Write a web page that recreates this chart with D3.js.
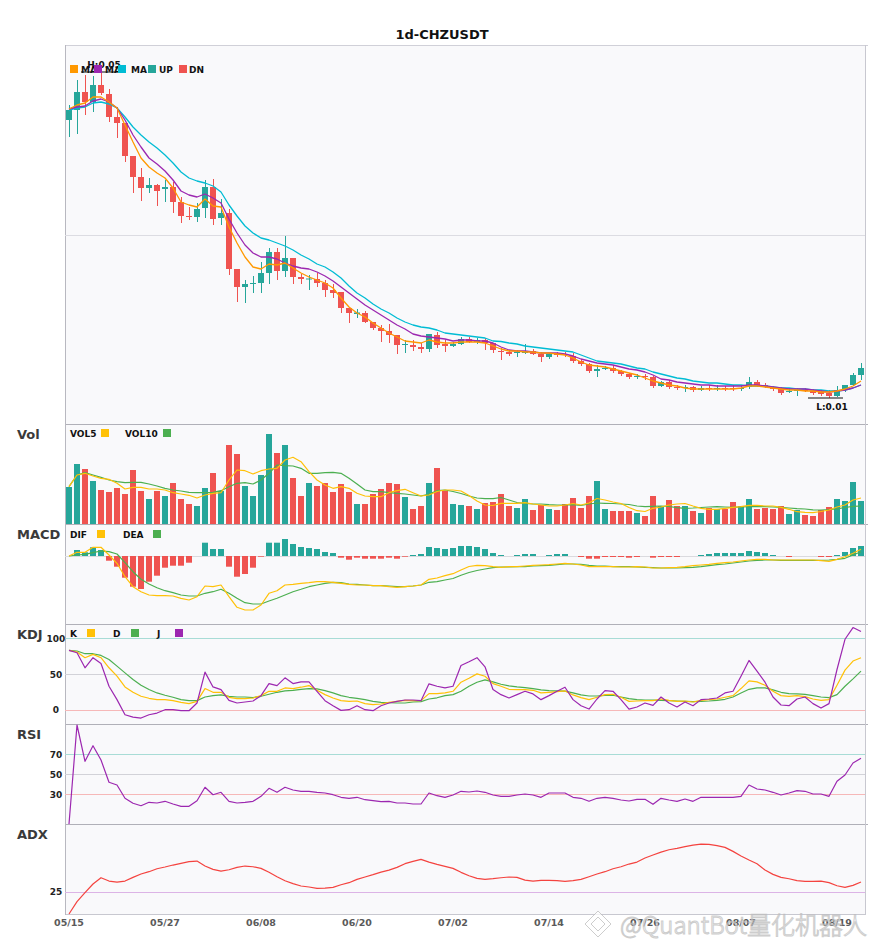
<!DOCTYPE html>
<html>
<head>
<meta charset="utf-8">
<script src="https://cdn.jsdelivr.net/npm/d3@7"></script>
<style>
  body { margin: 0; background: #fff; }
  text { font-family: "DejaVu Sans", sans-serif; }
</style>
</head>
<body>
<svg id="chart" width="885" height="950"></svg>
<script>
// daily candles, 05/15 .. 08/22
var days = d3.timeDay.range(new Date(2022, 4, 15), new Date(2022, 7, 23)).map(d3.timeFormat("%m/%d"));
var xTicks = ["05/15", "05/27", "06/08", "06/20", "07/02", "07/14", "07/26", "08/07", "08/19"];

var openP = [0.0410,0.0420,0.0438,0.0428,0.0445,0.0436,0.0413,0.0407,0.0374,0.0353,
  0.0342,0.0345,0.0341,0.0343,0.0328,0.0314,0.0313,0.0322,0.0343,0.0312,
  0.0317,0.0261,0.0243,0.0246,0.0247,0.0257,0.0278,0.0259,0.0272,0.0253,
  0.02505,0.0251,0.0247,0.0240,0.0238,0.0222,0.0216,0.0217,0.0208,0.0202,
  0.0199,0.0195,0.0185,0.0185,0.0183,0.0181,0.0195,0.0186,0.0184,0.0186,
  0.0191,0.0188,0.0190,0.0187,0.0179,0.0178,0.0177,0.0177,0.0179,0.0176,
  0.0173,0.0177,0.0176,0.0174,0.0169,0.0166,0.0159,0.0161,0.0162,0.0159,
  0.0156,0.0153,0.0154,0.0153,0.0144,0.0148,0.0143,0.0142,0.0143,0.0140,
  0.0142,0.0141,0.0142,0.0142,0.0141,0.0143,0.0148,0.0145,0.0143,0.0142,
  0.0138,0.0139,0.0140,0.0139,0.0138,0.0137,0.0134,0.0140,0.0145,0.0155];
var highP = [0.0425,0.0450,0.0455,0.0454,0.0458,0.0441,0.0423,0.0407,0.0374,0.0362,
  0.0352,0.0346,0.0350,0.0348,0.0333,0.0323,0.0327,0.0350,0.0351,0.0331,
  0.0321,0.0261,0.0250,0.0254,0.0268,0.0282,0.0282,0.0294,0.0272,0.0256,
  0.0255,0.0257,0.0250,0.0246,0.0238,0.0222,0.0221,0.0219,0.0208,0.0205,
  0.0206,0.0195,0.0190,0.0190,0.0187,0.0196,0.0198,0.0190,0.0188,0.0193,
  0.0193,0.0192,0.0192,0.0187,0.0182,0.0180,0.0180,0.0186,0.0181,0.0178,
  0.0177,0.0178,0.0178,0.0177,0.0171,0.0167,0.0165,0.0164,0.0165,0.0160,
  0.0157,0.0156,0.0156,0.0154,0.0149,0.0150,0.0145,0.0145,0.0144,0.0144,
  0.0145,0.0145,0.0144,0.0145,0.0145,0.0153,0.0150,0.0147,0.0144,0.0143,
  0.0142,0.0142,0.0142,0.0141,0.0140,0.0140,0.0144,0.0145,0.0157,0.0167];
var lowP = [0.0393,0.0396,0.0415,0.0418,0.0435,0.0408,0.0392,0.0368,0.0337,0.0329,
  0.0337,0.0324,0.0328,0.0317,0.0307,0.0310,0.0308,0.0312,0.0305,0.0305,
  0.0255,0.0228,0.0227,0.0237,0.0237,0.0246,0.0250,0.0253,0.0246,0.0246,
  0.0240,0.0243,0.0233,0.0232,0.0217,0.0207,0.0212,0.0207,0.0200,0.0188,
  0.0187,0.0176,0.0177,0.0179,0.0177,0.0178,0.0182,0.0178,0.0183,0.0185,
  0.0187,0.0186,0.0180,0.0177,0.0170,0.0174,0.0173,0.0176,0.0175,0.0168,
  0.0171,0.0173,0.0173,0.0167,0.0164,0.0157,0.0153,0.0160,0.0157,0.0154,
  0.0151,0.0151,0.0150,0.0142,0.0143,0.0141,0.0140,0.0138,0.0138,0.0139,
  0.0139,0.0139,0.0139,0.0139,0.0139,0.0141,0.0143,0.0142,0.0139,0.0135,
  0.0137,0.0134,0.0138,0.0135,0.0134,0.0132,0.0133,0.0138,0.0144,0.0150];
var closeP = [0.0420,0.0438,0.0428,0.0445,0.0437,0.0413,0.0407,0.0374,0.0353,0.0342,
  0.0345,0.0339,0.0343,0.0328,0.0314,0.0313,0.0321,0.0343,0.0311,0.0317,
  0.0261,0.0243,0.0246,0.0247,0.0257,0.0278,0.0259,0.0272,0.0253,0.0251,
  0.02515,0.0247,0.0240,0.0237,0.0222,0.0217,0.02175,0.0208,0.0202,0.0199,
  0.0195,0.0185,0.0186,0.0183,0.0181,0.0196,0.0185,0.0184,0.0186,0.0191,
  0.0188,0.0190,0.0187,0.0180,0.0178,0.0176,0.0178,0.01785,0.0176,0.0173,
  0.0176,0.0175,0.0175,0.0169,0.0166,0.0159,0.0161,0.0162,0.0159,0.0156,
  0.0153,0.0154,0.0153,0.0144,0.0148,0.0143,0.0142,0.0143,0.0140,0.0142,
  0.0141,0.0142,0.0141,0.0141,0.0142,0.0148,0.0145,0.0144,0.0141,0.0137,
  0.0139,0.0140,0.0139,0.0137,0.0136,0.0134,0.0140,0.0145,0.0155,0.0162];

var ma5 = [0.0421,0.0425,0.0427,0.0433,0.0433,0.0428,0.0422,0.0405,0.0388,0.0372,
  0.0363,0.0357,0.0352,0.0342,0.0328,0.0325,0.0323,0.0331,0.0324,0.0323,
  0.0303,0.0287,0.0273,0.0263,0.0261,0.0266,0.0265,0.0267,0.0262,0.0257,
  0.0253,0.0250,0.0247,0.0242,0.0232,0.0223,0.0217,0.0213,0.0207,0.0202,
  0.0197,0.0193,0.0189,0.0188,0.0187,0.0190,0.0188,0.0187,0.0187,0.0188,
  0.0188,0.0188,0.0187,0.0184,0.0181,0.0179,0.0179,0.0178,0.0178,0.0177,
  0.0177,0.0176,0.0175,0.0172,0.0168,0.0165,0.0164,0.0163,0.0161,0.0159,
  0.0157,0.0155,0.0152,0.0149,0.0147,0.0145,0.0144,0.0142,0.0141,0.0141,
  0.0141,0.0141,0.0141,0.0141,0.0142,0.0144,0.0144,0.0143,0.0142,0.0141,
  0.0140,0.0140,0.0139,0.0139,0.0138,0.0138,0.0139,0.0141,0.0144,0.0149];
var ma10 = [0.0421,0.0423,0.0424,0.0429,0.0431,0.0428,0.0422,0.0410,0.0395,0.0383,
  0.0372,0.0366,0.0359,0.0350,0.0339,0.0335,0.0333,0.0336,0.0332,0.0327,
  0.0311,0.0297,0.0285,0.0277,0.0273,0.0273,0.0271,0.0267,0.0264,0.0262,
  0.0261,0.0258,0.0254,0.0249,0.0243,0.0237,0.0231,0.0225,0.0220,0.0215,
  0.0210,0.0205,0.0201,0.0196,0.0194,0.0193,0.0192,0.0191,0.0189,0.0190,
  0.0190,0.0189,0.0189,0.0187,0.0183,0.0180,0.0179,0.0179,0.0178,0.0177,
  0.0177,0.0177,0.0176,0.0174,0.0171,0.0169,0.0167,0.0166,0.0165,0.0163,
  0.0161,0.0160,0.0158,0.0155,0.0151,0.0150,0.0148,0.0147,0.0146,0.0145,
  0.0145,0.0144,0.0144,0.0144,0.0144,0.0145,0.0145,0.0144,0.0143,0.0142,
  0.0141,0.0141,0.0141,0.0140,0.0139,0.0138,0.0139,0.0140,0.0142,0.0145];
var ma20 = [0.0420,0.0422,0.0423,0.0427,0.0428,0.0426,0.0422,0.0413,0.0403,0.0395,
  0.0388,0.0382,0.0375,0.0367,0.0358,0.0352,0.0349,0.0347,0.0344,0.0338,
  0.0325,0.0314,0.0304,0.0297,0.0292,0.0290,0.0287,0.0284,0.0280,0.0275,
  0.0271,0.0266,0.0263,0.0258,0.0252,0.0244,0.0237,0.0232,0.0226,0.0221,
  0.0217,0.0212,0.0208,0.0205,0.0203,0.0202,0.0200,0.0197,0.0196,0.0195,
  0.0194,0.0193,0.0192,0.0189,0.01885,0.0187,0.0186,0.0184,0.0183,0.0182,
  0.0181,0.0180,0.0179,0.0178,0.0175,0.0172,0.0169,0.0168,0.0167,0.0166,
  0.0164,0.0162,0.0161,0.0158,0.0156,0.0154,0.0152,0.0151,0.0149,0.0148,
  0.0147,0.0147,0.0146,0.0145,0.0145,0.0144,0.0144,0.0144,0.0143,0.0142,
  0.0142,0.0141,0.0141,0.0140,0.0140,0.0139,0.0139,0.0140,0.0142,0.0145];

// volume in millions
var volume = [37,60,55,43,34,32,36,30,54,33, 25,33,28,41,25,20,18,36,51,33,
  79,70,38,28,49,90,71,79,46,28, 41,38,41,32,40,32,20,20,30,35,
  41,40,27,15,18,41,56,33,20,19, 18,15,21,22,30,18,16,25,14,19,
  15,14,20,26,16,28,43,15,13,13, 13,11,8,28,18,24,18,18,13,11,
  16,15,15,22,18,25,15,16,15,18, 10,14,9,8,14,17,25,23,42,23];
var vol5 = [37.3,49,50.7,48,45.7,44.7,40.7,35,36.7,36.7, 35,35,34,31.3,30,28.7,26,29,30.7,31.3,
  44,54,53.3,50,53.3,55,55.7,64,66.7,62.3, 52.3,44,39,35.7,37.3,35.7,30.7,28,27.3,27.3,
  31.3,33.3,34.7,31.3,28,29,32.5,34,34,33, 28.5,23,19,18.5,20.7,20.7,20.7,21.3,20,19,
  18,18,19,20.5,19,21,25.5,24,22,20.5, 16.5,13.3,12.5,15.7,17,19,20,20.5,18,15.7,
  14.7,14.7,15.7,16.7,17.3,18.7,18.7,18,18,16.7, 14.7,12.3,11.7,11.3,12.5,14,17,19,24,26];
var vol10 = [37.3,49,51.3,49,46.7,44,42.3,41.3,41.7,41.7, 40,38,35.7,34,33,31.7,31.3,31.3,31.7,33.3,
  37.3,40.7,41.3,40,44,50.7,59,58.3,58,55.7, 50.7,50.7,51.3,51.7,50.7,45.7,40,34,32.3,32.3,
  31.3,30.7,30,29,28,30,33.3,34,32.5,30.5, 28,26,25.3,25.3,26.5,24,21.5,20.5,20,20,
  19.3,19,19,19.3,18.5,20,21,20.7,20.5,20, 19.5,18,17.3,17.7,18,17.5,16.3,15.7,16,16.5,
  17,17.3,17,16.7,17,17.3,17.3,17.3,17,16.7, 16,15.4,15,14.2,14,14.5,15.2,16.5,17.7,18];

// MACD values in units of 1e-5
var dif = [0,3.7,3.7,8.7,8.7,1,-7.3,-20.7,-30.7,-35.7, -39,-39.7,-39.7,-40,-42.3,-44,-40.7,-30,-30.7,-29,
  -40.7,-51.3,-54,-54,-49,-37.3,-34.7,-29,-28.3,-27.3, -26.7,-25.7,-25.7,-26.3,-27.3,-28.3,-29,-29,-29.7,-29.7,
  -30.7,-31.3,-30.7,-30,-29,-23.3,-22,-19.7,-17.7,-14, -10.5,-9.3,-9.7,-10.7,-11.3,-10.7,-10.7,-10,-9.3,-9,
  -8.7,-8,-7.3,-8,-9,-10.7,-10.7,-10.7,-10.7,-11, -11,-10.7,-11,-12,-12,-11.7,-11.3,-10.7,-9.7,-9,
  -8.3,-7.3,-6.7,-6,-5,-4,-3.3,-3.3,-4,-4, -4,-4,-4,-4,-4.7,-5.3,-3.3,-0.7,2.7,6.7];
var dea = [0,1,1.7,3.3,5,4.3,2,-6.7,-15.7,-23.3, -28,-31.7,-34.7,-36.7,-39,-40,-40,-37.3,-35.7,-33.3,
  -37.3,-42.3,-46.7,-48,-48,-45,-42.3,-39,-35.7,-33.3, -30.7,-29,-27.3,-26.3,-26.7,-28,-28.3,-29,-29.7,-29.7,
  -30,-30.7,-30.7,-30,-29,-26.3,-25.7,-24,-22.5,-19.2, -16.5,-14.5,-13,-11.7,-11,-11,-10.7,-10.7,-10,-9.7,
  -9.3,-8.7,-8,-8,-8.3,-9.3,-10,-10,-10.7,-10.7, -10.7,-11,-11.3,-11.7,-12,-12,-12,-11.7,-11.3,-10.7,
  -9.7,-8.7,-8,-7,-6,-5,-4.3,-4,-4,-4.3, -4.3,-4.3,-4.3,-4.3,-4.3,-4,-3.3,-2.3,1,4.3];
var macdHist = [0,6,3.7,8.7,6,-4.7,-10.7,-21.7,-30.7,-33, -25.7,-19.7,-11.7,-9.7,-9.7,-6.7,0,13.3,7,7,
  -10.7,-20.7,-18,-11.7,-0.7,13.3,13.3,17,12,9, 8,7,4,3,-1.7,-3.7,-1.7,-2.7,-2.7,-2.7,
  -1.7,-2.7,-0.7,1,2,9,8,7,8,10, 10,9,7,3,1,0,1,2,2,0,
  1,2,2,0,-1,-2.7,-2.7,-1,-1,-1, -1.7,-1,0,-1.7,-1,-1,-1,0,0,1,
  2,3,3,3,3,5,4,3,1,0, -1,0,0,0,-1,-1,1,4,8,10];

var kLine = [83,80.8,72.8,77.5,72.8,58.7,47,31.9,24.4,18.8, 16,14.1,14.1,12.7,10.3,8.5,11.7,29.6,24.4,24.4,
  17.4,15.5,15.5,16.4,19.7,25.8,25.8,30.5,29.6,31.5, 33.8,27.2,21.1,16.4,12.7,11.7,12.2,8.5,7,8,
  10.3,11.7,13.1,12.7,12.7,22.5,22.5,23.5,25.8,38.5, 44.1,50.2,46.9,36.6,32.9,28.6,28.2,28.2,27.2,23.5,
  24.4,25.4,26.3,20.7,16.9,14.1,17.4,21.1,21.6,17.4, 11.7,12.2,12.7,12.7,15,13.1,11.7,12.2,10.8,13.1,
  14.1,15,17.4,19.7,29.6,40.4,39,34.3,25.8,19.7, 18.8,19.7,18.3,15,13.1,14.1,34.3,55.4,68.1,72.8];
var dLine = [83,82.2,78.4,78.4,76,70.4,61,51.6,42.3,34.3, 28.2,23.5,20.2,17.4,14.1,12.7,12.7,17.8,19.7,20.7,
  18.8,17.8,17.8,16.9,18.8,21.6,24.4,26.3,27.2,28.6, 29.6,29.1,26.8,23.5,19.7,17.4,16,14.1,11.7,10.3,
  9.9,9.4,9.4,10.8,11.3,15,16.7,19.7,21.1,25.8, 32.9,38.5,41.8,39,35.7,33.3,31.9,31,29.6,27.7,
  26.8,26.3,26,23.5,20.7,19.2,19.2,20.2,20.2,17.8, 15.5,14.1,13.6,13.6,13.1,12.7,12.2,11.7,11.3,11.7,
  12.2,13.1,14.6,17.8,23.5,28.6,30.5,30.5,27.7,24.4, 22.5,22.1,21.6,19.7,17.8,16.9,21.1,32.9,43.2,54];
var jLine = [83,79.8,58.7,72.8,64.8,32.9,14.1,-7,-10.3,-11.7, -7,-4.7,0,0,-1.4,-1.4,9.4,52.6,31.9,28.2,
  13.1,9.4,10.8,12.2,19.7,36.6,33.8,44.6,36.6,39, 39,25.8,12.7,5.6,-0.9,0,5.6,0,-1.4,5.6,
  9.4,11.7,13.6,13.6,12.7,36.2,32.9,30.5,32.9,62, 67.1,72.8,60.1,28.2,21.1,16.4,21.1,25.8,22.1,14.1,
  19.7,25.8,31.5,14.1,5.6,0.9,15,26.8,25.8,14.1, 0.9,3.8,9.4,6.1,17.8,9.4,3.8,10.8,5.6,14.1,
  15,16.4,23.5,25.8,46.9,69,54,38.5,17.8,6.6, 5.6,15,17.8,8.5,2.3,8.5,56.3,98.6,115,109.4];
var rsi = [0,99,62.7,78.3,64,41.7,39,25.7,20.7,18.3, 21.7,21,22.7,20,17.7,17.7,23.3,36.7,29.3,31.7,
  22.7,21,21.7,22.7,27.7,35.7,31.7,36.7,34,32.7, 32.7,31.7,31,29.3,26.7,25.7,26.7,24.3,23.3,22.3,
  22.7,21,21,20,20,31,28.3,26.7,29,32.7, 32,33,31.7,29,27.7,27.7,29,30,29,26.7,
  31,31,31,26.7,25.7,22.7,25.7,26.7,25.7,24, 23,24.7,24.7,19.7,25.7,24,22.7,25,22.7,26.7,
  26.7,26.7,26.7,26.7,27.7,39,35,34,31.7,29, 31,33.3,32.7,30,30,27.7,42.7,49,61,65.7];
var adx = [0,13.7,23.7,33.3,40.3,36.6,35.5,36.6,40.7,44.4, 47,50.3,52.2,54.4,56.3,58.1,58.8,53.3,49.6,47.7,
  49.2,51.8,53.3,52.5,50.7,46.3,41.4,37,33.7,31.1, 30,28.5,28.8,29.6,32.5,34.8,38.5,41.1,43.7,46.6,
  48.8,51.8,55.9,58.5,60.7,57.7,55.1,52.9,50.7,46.3, 42.5,39.6,38.5,39.2,40.3,41.1,40.7,37.7,36.6,37.4,
  37.4,37,36.3,37,38.5,41.4,44.4,47,50.3,52.5, 55.5,57.7,62.2,65.5,68.8,71.4,72.9,74.8,76.6,77.7,
  77.4,75.9,74,69.6,64.4,60,55.9,48.8,44,40.7, 39.2,37,36.3,36.3,36.6,34.8,31.4,29.6,31.8,35.5];

var kdjLevels = [100, 50, 0];
var rsiLevels = [70, 50, 30];
var adxLevels = [25];

var UP = "#26a69a", DN = "#ef5350";
var C_MA5 = "#ff9800", C_MA10 = "#9c27b0", C_MA20 = "#00bcd4";
var C_Y = "#ffc107", C_G = "#4caf50", C_P = "#9c27b0";

var svg = d3.select("#chart");
var left = 65, right = 865;

var x = d3.scaleBand().domain(days).range([left, right]).paddingInner(0.25).paddingOuter(0.125);
var bw = x.bandwidth();
var cx = function(i) { return x(days[i]) + bw / 2; };
var idx = d3.range(days.length);

var panels = [
  {label: "",     top: 45,  bottom: 424},
  {label: "Vol",  top: 424, bottom: 524},
  {label: "MACD", top: 524, bottom: 624},
  {label: "KDJ",  top: 624, bottom: 724},
  {label: "RSI",  top: 724, bottom: 824},
  {label: "ADX",  top: 824, bottom: 914}
];

var yPrice = d3.scaleLinear().domain([0.0106, 0.0485]).range([424, 45]);
var yVol = d3.scaleLinear().domain([0, 100]).range([524, 424]);
var yMacd = d3.scaleLinear().domain([-68, 32]).range([624, 524]);
var yKdj = d3.scaleLinear().domain([-20, 120]).range([724, 624]);
var yRsi = d3.scaleLinear().domain([0, 100]).range([824, 724]);
var yAdx = d3.scaleLinear().domain([0, 100]).range([914, 824]);

// title
svg.append("text").attr("x", 442).attr("y", 39).attr("text-anchor", "middle")
  .style("font-size", "13px").style("font-weight", "bold").attr("fill", "#111").text("1d-CHZUSDT");

// panel backgrounds and borders
svg.append("rect").attr("x", left).attr("y", 45).attr("width", right - left).attr("height", 914 - 45)
  .attr("fill", "#f9f9fb");
svg.selectAll("line.sep").data(panels).enter().append("line")
  .attr("x1", left).attr("x2", right + 3)
  .attr("y1", function(d) { return d.top + 0.5; }).attr("y2", function(d) { return d.top + 0.5; })
  .attr("stroke", function(d, i) { return i === 0 ? "#d0d0d8" : "#b0b0b8"; }).attr("stroke-width", 1);
svg.append("line").attr("x1", left).attr("x2", right).attr("y1", 914.5).attr("y2", 914.5).attr("stroke", "#c8c8d0");
svg.append("line").attr("x1", left + 0.5).attr("x2", left + 0.5).attr("y1", 45).attr("y2", 915).attr("stroke", "#b8b8c0");
svg.append("line").attr("x1", right + 0.5).attr("x2", right + 0.5).attr("y1", 45).attr("y2", 915).attr("stroke", "#c8c8d0");

// panel names
svg.selectAll("text.pname").data(panels.slice(1)).enter().append("text")
  .attr("x", 17).attr("y", function(d) { return d.top + 15; })
  .style("font-size", "13px").style("font-weight", "bold").attr("fill", "#3a3a3a")
  .text(function(d) { return d.label; });

// main grid line
var midPrice = d3.mean(yPrice.domain());
svg.append("line").attr("x1", left).attr("x2", right)
  .attr("y1", Math.round(yPrice(midPrice)) + 0.5).attr("y2", Math.round(yPrice(midPrice)) + 0.5)
  .attr("stroke", "#dcdce2");

function isUp(i) { return closeP[i] >= openP[i]; }

// candles
var candle = svg.append("g");
candle.selectAll("line").data(idx).enter().append("line")
  .attr("x1", function(i) { return Math.round(cx(i)) + 0.5; })
  .attr("x2", function(i) { return Math.round(cx(i)) + 0.5; })
  .attr("y1", function(i) { return yPrice(highP[i]); })
  .attr("y2", function(i) { return yPrice(lowP[i]); })
  .attr("stroke", function(i) { return isUp(i) ? UP : DN; }).attr("stroke-width", 1);
candle.selectAll("rect").data(idx).enter().append("rect")
  .attr("x", function(i) { return x(days[i]); })
  .attr("width", bw)
  .attr("y", function(i) { return yPrice(Math.max(openP[i], closeP[i])); })
  .attr("height", function(i) { return Math.max(1, Math.abs(yPrice(openP[i]) - yPrice(closeP[i]))); })
  .attr("fill", function(i) { return isUp(i) ? UP : DN; });

function drawLine(values, yScale, color, width) {
  svg.append("path").datum(idx)
    .attr("fill", "none").attr("stroke", color).attr("stroke-width", width || 1.3)
    .attr("stroke-linejoin", "round")
    .attr("d", d3.line().x(cx).y(function(i) { return yScale(values[i]); }));
}

drawLine(ma20, yPrice, C_MA20);
drawLine(ma10, yPrice, C_MA10);
drawLine(ma5, yPrice, C_MA5);

// high / low marks
var hi = d3.maxIndex(highP), lo = d3.minIndex(lowP);
var fmt = d3.format(".2f");
svg.append("line").attr("x1", cx(hi) - 20).attr("x2", cx(hi) + 20)
  .attr("y1", yPrice(highP[hi])).attr("y2", yPrice(highP[hi])).attr("stroke", "#111").attr("stroke-width", 1.2);
svg.append("text").attr("x", cx(hi) + 3).attr("y", yPrice(highP[hi]) - 4).attr("text-anchor", "middle")
  .style("font-size", "9px").style("font-weight", "bold").attr("fill", "#111").text("H:" + fmt(highP[hi]));
svg.append("line").attr("x1", cx(lo) - 21).attr("x2", cx(lo) + 14)
  .attr("y1", yPrice(lowP[lo])).attr("y2", yPrice(lowP[lo])).attr("stroke", "#111").attr("stroke-width", 1.2);
svg.append("text").attr("x", cx(lo) + 3).attr("y", yPrice(lowP[lo]) + 12).attr("text-anchor", "middle")
  .style("font-size", "9px").style("font-weight", "bold").attr("fill", "#111").text("L:" + fmt(lowP[lo]));

// legends
function legend(items, y) {
  items.forEach(function(it) {
    if (it.text) svg.append("text").attr("x", it.tx).attr("y", y + 3.5)
      .style("font-size", "9px").style("font-weight", "bold").attr("fill", "#111").text(it.text);
    if (it.color) svg.append("rect").attr("x", it.rx).attr("y", y - 4).attr("width", 8).attr("height", 8)
      .attr("fill", it.color);
  });
}
legend([
  {text: "MA", tx: 81, color: C_MA5, rx: 70},
  {text: "MA", tx: 105, color: C_MA10, rx: 94},
  {text: "MA", tx: 131, color: C_MA20, rx: 118},
  {text: "UP", tx: 159, color: UP, rx: 148},
  {text: "DN", tx: 189, color: DN, rx: 179}
], 69);

// volume
svg.append("g").selectAll("rect").data(idx).enter().append("rect")
  .attr("x", function(i) { return x(days[i]); }).attr("width", bw)
  .attr("y", function(i) { return yVol(volume[i]); })
  .attr("height", function(i) { return yVol(0) - yVol(volume[i]); })
  .attr("fill", function(i) { return isUp(i) ? UP : DN; });
drawLine(vol10, yVol, C_G, 1.2);
drawLine(vol5, yVol, C_Y, 1.2);
legend([{text: "VOL5", tx: 70, color: C_Y, rx: 101}, {text: "VOL10", tx: 125, color: C_G, rx: 163}], 433);

// MACD
svg.append("line").attr("x1", left).attr("x2", right).attr("y1", yMacd(0) + 0.5).attr("y2", yMacd(0) + 0.5)
  .attr("stroke", "#dadade");
svg.append("g").selectAll("rect").data(idx).enter().append("rect")
  .attr("x", function(i) { return x(days[i]); }).attr("width", bw)
  .attr("y", function(i) { return Math.min(yMacd(0), yMacd(macdHist[i])); })
  .attr("height", function(i) { return Math.abs(yMacd(macdHist[i]) - yMacd(0)); })
  .attr("fill", function(i) { return macdHist[i] >= 0 ? UP : DN; });
drawLine(dea, yMacd, C_G, 1.2);
drawLine(dif, yMacd, C_Y, 1.2);
legend([{text: "DIF", tx: 70, color: C_Y, rx: 97}, {text: "DEA", tx: 123, color: C_G, rx: 153}], 534);

// level lines + labels
function levels(vals, yScale, colors) {
  vals.forEach(function(v, k) {
    svg.append("line").attr("x1", left).attr("x2", right)
      .attr("y1", Math.round(yScale(v)) + 0.5).attr("y2", Math.round(yScale(v)) + 0.5)
      .attr("stroke", colors[k]).attr("stroke-width", 1);
    svg.append("text").attr("x", 56).attr("y", yScale(v) + 3.5).attr("text-anchor", "middle")
      .style("font-size", "9px").style("font-weight", "bold").attr("fill", "#222").text(v);
  });
}

// KDJ
levels(kdjLevels, yKdj, ["#a8dcd6", "#d2d2d8", "#f6b8b8"]);
drawLine(dLine, yKdj, C_G, 1.2);
drawLine(kLine, yKdj, C_Y, 1.2);
drawLine(jLine, yKdj, C_P, 1.2);
legend([{text: "K", tx: 70, color: C_Y, rx: 87}, {text: "D", tx: 113, color: C_G, rx: 131},
  {text: "J", tx: 157, color: C_P, rx: 175}], 633);

// RSI
levels(rsiLevels, yRsi, ["#a8dcd6", "#d2d2d8", "#f6b8b8"]);
drawLine(rsi, yRsi, C_P, 1.2);

// ADX
levels(adxLevels, yAdx, ["#dcb4e6"]);
drawLine(adx, yAdx, "#f4433f", 1.2);

// x axis labels
svg.selectAll("text.xt").data(xTicks).enter().append("text")
  .attr("x", function(d) { return x(d) + bw / 2; }).attr("y", 926).attr("text-anchor", "middle")
  .style("font-size", "9.5px").style("font-weight", "bold").attr("fill", "#5a5a5a").text(function(d) { return d; });

// watermark (lies over the last axis labels, as in the source image)
var wm = svg.append("g").attr("opacity", 0.75);
wm.append("path").attr("d", "M598,911 L611,924 L598,937 L585,924 Z M598,917 L605,924 L598,931 L591,924 Z")
  .attr("fill", "#fff").attr("stroke", "#bdbdbd").attr("stroke-width", 1);
wm.append("text").attr("x", 620).attr("y", 934)
  .style("font-family", "'Noto Sans CJK SC', 'DejaVu Sans', sans-serif").style("font-size", "24px")
  .style("font-weight", "300")
  .attr("fill", "#fff").attr("stroke", "#bdbdbd").attr("stroke-width", 1)
  .text("@QuantBot量化机器人");
</script>
</body>
</html>
